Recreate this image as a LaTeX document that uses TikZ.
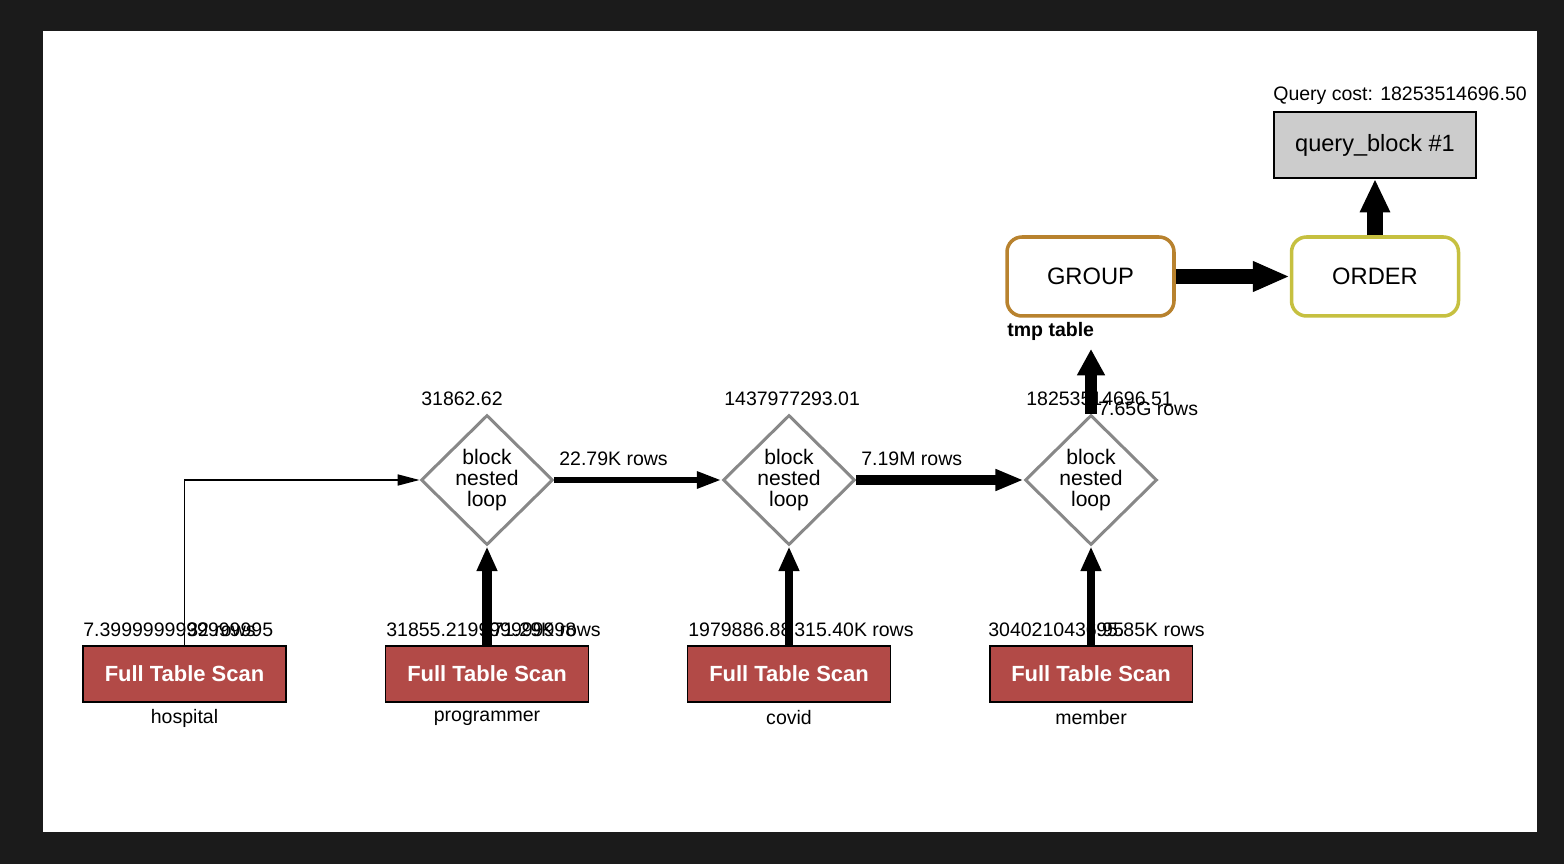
\documentclass[tikz,border=0pt]{standalone}
\usepackage{fontspec}
\setmainfont{Liberation Sans}
\usetikzlibrary{shapes.geometric,arrows.meta,positioning}
\definecolor{scanred}{HTML}{B24A47}
\definecolor{bnlgray}{HTML}{888888}
\definecolor{groupbrown}{HTML}{B8822E}
\definecolor{orderolive}{HTML}{C6C040}
\definecolor{qbgray}{HTML}{CCCCCC}
\definecolor{framedark}{HTML}{1B1B1B}

\begin{document}
\begin{tikzpicture}[x=0.02cm,y=-0.02cm,
        scan/.style={draw,line width=1.1pt,fill=scanred,text=white,font=\fontsize{12.5}{14}\selectfont\bfseries,minimum width=4.06cm,minimum height=1.12cm,inner sep=0pt},
        bnl/.style={draw=bnlgray,line width=1.7pt,diamond,minimum width=2.64cm,minimum height=2.6cm,inner sep=0pt},
        op/.style={rounded corners=0.3cm,line width=2pt,fill=white,minimum width=3.34cm,minimum height=1.58cm,font=\fontsize{13.5}{15}\selectfont},
        txt/.style={inner sep=0pt,font=\fontsize{11.1}{13}\selectfont},
        flow/.style={draw,line width=#1}]
        % frame
        \useasboundingbox (0,0) rectangle (1564,864);
        \fill[framedark] (0,0) rectangle (1564,864);
        \fill[white] (43,31) rectangle (1537,832);

        \node[scan] (fts1) at (184.5,674) {Full Table Scan};
        \node[scan] (fts2) at (487,674) {Full Table Scan};
        \node[scan] (fts3) at (789,674) {Full Table Scan};
        \node[scan] (fts4) at (1091,674) {Full Table Scan};
        \node[txt,below=0.3cm of fts1,anchor=center] (hospital) {hospital};
        \node[txt,below=0.3cm of fts2,anchor=center] (programmer) {programmer};
        \node[txt,below=0.3cm of fts3,anchor=center] (covid) {covid};
        \node[txt,below=0.3cm of fts4,anchor=center] (member) {member};

        \node[bnl] (d1) at (487,480) {};
        \node[bnl] (d2) at (789,480) {};
        \node[bnl] (d3) at (1091,480) {};
        \foreach \d in {d1,d2,d3}
            \node[align=center,inner sep=0pt,font=\fontsize{12}{11.7}\selectfont] at (\d) {block\\nested\\loop};

        \node[op,draw=groupbrown] (group) at (1090.5,276.5) {GROUP};
        \node[op,draw=orderolive] (order) at (1375,276.5) {ORDER};
        \node[draw,line width=1.1pt,fill=qbgray,minimum width=4.04cm,minimum height=1.32cm,font=\fontsize{13.4}{15}\selectfont] (qb) at (1375,145) {query\_block \#1};
        \node[txt,font=\fontsize{11.1}{13}\selectfont\bfseries,anchor=base west] (tmp) at (1007,337) {tmp table};
        \coordinate (tmpin) at (1091,349);

        % costs and rows
        \node[txt,anchor=base west] at (83,636) {7.3999999999999995};
        \node[txt,anchor=base west] at (187,636) {32 rows};
        \node[txt,anchor=base west] at (386,636) {31855.219999999998};
        \node[txt,anchor=base west] at (492,636) {71.29K rows};
        \node[txt,anchor=base west] at (688,636) {1979886.88};
        \node[txt,anchor=base west] at (794,636) {315.40K rows};
        \node[txt,anchor=base west] at (988,636) {3040210436.95};
        \node[txt,anchor=base west] at (1096,636) {95.85K rows};
        \node[txt,anchor=base west] at (421,406) {31862.62};
        \node[txt,anchor=base west] at (724,406) {1437977293.01};
        \node[txt,anchor=base west] at (1026,406) {18253514696.51};
        \node[txt,anchor=base west] at (559,465) {22.79K rows};
        \node[txt,anchor=base west] at (861,465) {7.19M rows};
        \node[txt,anchor=base west] at (1098,416) {7.65G rows};
        \node[txt,anchor=base west] at (1273,101) {Query cost: 18253514696.50};

        \path[flow=0.85pt,-{Triangle[length=12.5pt,width=6.3pt]}] (fts1.north) |- (d1.west);
        \path[flow=5.7pt,-{Triangle[length=14pt,width=11pt]}] (fts2) -- (d1);
        \path[flow=3.4pt,-{Triangle[length=14pt,width=9pt]}] (d1) -- (d2);
        \path[flow=5.1pt,-{Triangle[length=14pt,width=11pt]}] (fts3) -- (d2);
        \path[flow=5.7pt,-{Triangle[length=16pt,width=11.4pt]}] (d2) -- (d3);
        \path[flow=5.1pt,-{Triangle[length=14pt,width=11pt]}] (fts4) -- (d3);
        \path[flow=6.8pt,-{Triangle[length=15pt,width=15pt]}] (d3) -- (tmpin);
        \path[flow=8.5pt,-{Triangle[length=21pt,width=16pt]}] (group) -- (order);
        \path[flow=9pt,-{Triangle[length=19pt,width=16pt]}] (order) -- (qb);
    \end{tikzpicture}
\end{document}
